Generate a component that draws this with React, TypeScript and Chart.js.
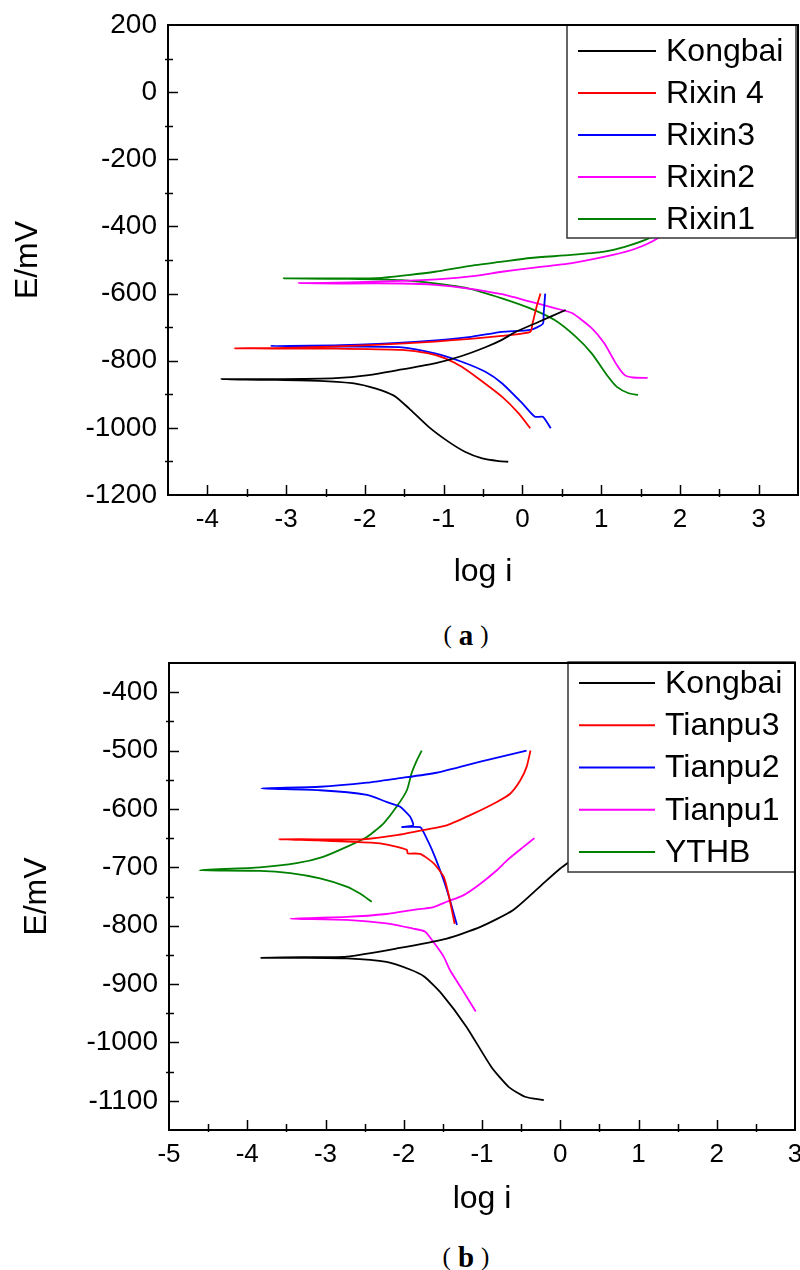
import React, { useEffect, useRef } from "react";
import { Chart, registerables } from "chart.js";

Chart.register(...registerables);

type Pt = [number, number];

const FONT = '"Liberation Sans", Arial, sans-serif';
const COLORS = ["#000000", "#ff0000", "#0000ff", "#ff00ff", "#008000"];

// ---------------- Figure (a) ----------------
const namesA = ["Kongbai", "Rixin 4", "Rixin3", "Rixin2", "Rixin1"];
const kongbaiA: Pt[] = [
  [-0.18, -1101], [-0.3, -1099], [-0.51, -1091], [-0.73, -1071], [-0.94, -1041],
  [-1.19, -997], [-1.44, -942], [-1.61, -907], [-1.78, -889], [-1.95, -877],
  [-2.16, -867], [-2.58, -860], [-3.2, -857], [-3.82, -855], [-3.2, -855],
  [-2.37, -852], [-1.95, -843], [-1.53, -826], [-1.11, -808], [-0.77, -786],
  [-0.47, -760], [-0.26, -738], [-0.1, -716], [0.21, -684], [0.55, -649],
];
const rixin4: Pt[] = [
  [0.1, -1001], [-0.05, -956], [-0.26, -907], [-0.56, -853], [-0.77, -818],
  [-0.98, -793], [-1.19, -778], [-1.53, -768], [-2.37, -764], [-3.0, -764],
  [-3.66, -763], [-3.0, -762], [-1.87, -753], [-1.11, -743], [-0.26, -726],
  [0.1, -714], [0.13, -688], [0.18, -640], [0.23, -600],
];
const rixin3: Pt[] = [
  [0.36, -1001], [0.26, -967], [0.16, -967], [0.0, -927], [-0.26, -867],
  [-0.47, -833], [-0.77, -803], [-1.11, -778], [-1.53, -760], [-2.3, -758],
  [-3.2, -756], [-2.3, -754], [-1.32, -743], [-0.68, -730], [-0.26, -714],
  [0.1, -708], [0.26, -690], [0.27, -660], [0.29, -600],
];
const rixin2: Pt[] = [
  [1.59, -851], [1.4, -850], [1.3, -843], [1.2, -813], [1.04, -748],
  [0.88, -703], [0.63, -658], [0.42, -644], [0.1, -624], [-0.26, -602],
  [-0.68, -585], [-1.11, -574], [-1.53, -570], [-2.2, -570], [-2.84, -569],
  [-2.2, -567], [-1.53, -562], [-1.0, -556], [-0.6, -547], [-0.26, -535],
  [0.1, -524], [0.63, -509], [1.15, -485], [1.45, -465], [1.72, -435],
  [1.9, -400],
];
const rixin1: Pt[] = [
  [1.47, -902], [1.35, -897], [1.2, -878], [1.09, -848], [0.88, -778],
  [0.68, -729], [0.41, -679], [0.1, -644], [-0.26, -614], [-0.68, -585],
  [-1.11, -570], [-1.53, -560], [-2.2, -556], [-3.03, -555], [-2.2, -555],
  [-1.78, -553], [-1.45, -545], [-1.11, -535], [-0.68, -518], [-0.26, -505],
  [0.1, -494], [0.62, -485], [1.04, -475], [1.3, -461], [1.61, -435],
  [1.85, -400],
];
const xTicksA = [-4, -3, -2, -1, 0, 1, 2, 3];
const yTicksA = [200, 0, -200, -400, -600, -800, -1000, -1200];

// ---------------- Figure (b) ----------------
const namesB = ["Kongbai", "Tianpu3", "Tianpu2", "Tianpu1", "YTHB"];
const kongbaiB: Pt[] = [
  [-0.21, -1099], [-0.45, -1093], [-0.66, -1076], [-0.88, -1042], [-1.2, -973],
  [-1.52, -916], [-1.74, -887], [-1.92, -875], [-2.22, -862], [-2.73, -856],
  [-3.3, -855], [-3.83, -855], [-3.3, -854], [-2.73, -853], [-2.09, -839],
  [-1.45, -822], [-1.02, -802], [-0.6, -773], [-0.26, -733], [0.0, -702],
  [0.35, -668],
];
const tianpu3: Pt[] = [
  [-1.35, -797], [-1.36, -790], [-1.43, -745], [-1.49, -716], [-1.62, -693],
  [-1.79, -677], [-1.95, -676], [-1.96, -670], [-2.3, -659], [-2.73, -656],
  [-3.1, -654], [-3.59, -652], [-3.1, -652], [-2.52, -652], [-2.09, -645],
  [-1.7, -635], [-1.45, -628], [-1.11, -608], [-0.81, -588], [-0.64, -574],
  [-0.51, -551], [-0.43, -528], [-0.38, -500],
];
const tianpu2: Pt[] = [
  [-1.32, -799], [-1.41, -756], [-1.49, -722], [-1.62, -676], [-1.75, -639],
  [-1.79, -631], [-2.02, -631], [-1.88, -628], [-1.92, -613], [-2.05, -596],
  [-2.22, -588], [-2.47, -576], [-3.07, -568], [-3.82, -565], [-3.07, -562],
  [-2.47, -555], [-2.09, -548], [-1.58, -538], [-1.02, -519], [-0.43, -500],
];
const tianpu1: Pt[] = [
  [-1.08, -947], [-1.25, -910], [-1.41, -876], [-1.49, -853], [-1.62, -828],
  [-1.73, -810], [-1.88, -805], [-2.22, -796], [-2.73, -790], [-3.45, -788],
  [-2.73, -785], [-2.22, -780], [-1.88, -773], [-1.62, -768], [-1.45, -759],
  [-1.24, -748], [-1.02, -728], [-0.81, -705], [-0.68, -688], [-0.47, -665],
  [-0.33, -650],
];
const ythb: Pt[] = [
  [-2.41, -759], [-2.56, -745], [-2.73, -733], [-3.07, -719], [-3.45, -710],
  [-3.84, -706], [-4.61, -705], [-3.84, -700], [-3.37, -693], [-3.03, -682],
  [-2.73, -665], [-2.47, -648], [-2.26, -625], [-2.09, -596], [-1.96, -568],
  [-1.9, -539], [-1.83, -516], [-1.77, -500],
];
const xTicksB = [-5, -4, -3, -2, -1, 0, 1, 2, 3];
const yTicksB = [-400, -500, -600, -700, -800, -900, -1000, -1100];

// ---------------- plugins ----------------
const frameTicks = {
  id: "frameTicks",
  afterDraw(chart: any, _a: any, o: any) {
    const { ctx, chartArea } = chart;
    const { left, right, top, bottom } = chartArea;
    const xs = chart.scales.x;
    const ys = chart.scales.y;
    ctx.save();
    ctx.strokeStyle = "#000";
    ctx.lineWidth = 1.5;
    const isMajor = (v: number, step: number) =>
      Math.abs(v / step - Math.round(v / step)) < 1e-6;
    for (let n = Math.ceil(xs.min / o.xMinor); n * o.xMinor <= xs.max + 1e-9; n++) {
      const v = n * o.xMinor;
      if (Math.abs(v - xs.min) < 1e-9 || Math.abs(v - xs.max) < 1e-9) continue;
      const p = Math.round(xs.getPixelForValue(v)) + 0.5;
      const maj = isMajor(v, o.xMajor);
      ctx.beginPath();
      ctx.moveTo(p, bottom + (maj ? 0 : 2));
      ctx.lineTo(p, bottom - (maj ? 10 : 6));
      ctx.stroke();
    }
    for (let n = Math.ceil(ys.min / o.yMinor); n * o.yMinor <= ys.max + 1e-9; n++) {
      const v = n * o.yMinor;
      if (Math.abs(v - ys.min) < 1e-9 || Math.abs(v - ys.max) < 1e-9) continue;
      const p = Math.round(ys.getPixelForValue(v)) + 0.5;
      const maj = isMajor(v, o.yMajor);
      ctx.beginPath();
      ctx.moveTo(left - (maj ? 0 : 3), p);
      ctx.lineTo(left + (maj ? 10 : 5), p);
      ctx.stroke();
    }
    ctx.lineWidth = 2;
    ctx.strokeRect(left, top, right - left, bottom - top);
    ctx.restore();
  },
};

const boxLegend = {
  id: "boxLegend",
  afterDatasetsDraw(chart: any, _a: any, o: any) {
    const ctx = chart.ctx;
    ctx.save();
    ctx.fillStyle = "#ffffff";
    ctx.fillRect(o.x, o.y, o.w, o.h);
    ctx.strokeStyle = "#333333";
    ctx.lineWidth = 1.5;
    ctx.strokeRect(o.x, o.y, o.w, o.h);
    ctx.font = `${o.fontSize}px ${FONT}`;
    ctx.textBaseline = "middle";
    ctx.textAlign = "left";
    chart.data.datasets.forEach((ds: any, i: number) => {
      const y = o.y + o.firstRow + i * o.rowGap;
      ctx.strokeStyle = ds.borderColor;
      ctx.lineWidth = 2;
      ctx.beginPath();
      ctx.moveTo(o.lineX1, y);
      ctx.lineTo(o.lineX2, y);
      ctx.stroke();
      ctx.fillStyle = "#000";
      ctx.fillText(ds.label, o.textX, y + 1);
    });
    ctx.restore();
  },
};

type PanelProps = {
  top: number;
  height: number;
  names: string[];
  series: Pt[][];
  xMin: number;
  xMax: number;
  yMin: number;
  yMax: number;
  xTicks: number[];
  yTicks: number[];
  xMinor: number;
  xMajor: number;
  yMinor: number;
  yMajor: number;
  padTop: number;
  padRight: number;
  yAxisW: number;
  xAxisH: number;
  xTitlePad: number;
  yTitlePad: number;
  legend: any;
};

function Panel(p: PanelProps) {
  const ref = useRef<HTMLCanvasElement>(null);
  useEffect(() => {
    const chart = new Chart(ref.current as HTMLCanvasElement, {
      type: "scatter",
      data: {
        datasets: p.series.map((s, i) => ({
          label: p.names[i],
          data: s.map(([x, y]) => ({ x, y })),
          showLine: true,
          borderColor: COLORS[i],
          backgroundColor: COLORS[i],
          borderWidth: 1.8,
          pointRadius: 0,
          tension: 0.2,
        })),
      },
      options: {
        responsive: false,
        maintainAspectRatio: false,
        animation: false,
        devicePixelRatio: 1,
        events: [],
        layout: { padding: { top: p.padTop, right: p.padRight, left: 0, bottom: 0 } },
        plugins: {
          legend: { display: false },
          tooltip: { enabled: false },
          frameTicks: { xMinor: p.xMinor, xMajor: p.xMajor, yMinor: p.yMinor, yMajor: p.yMajor },
          boxLegend: p.legend,
        } as any,
        scales: {
          x: {
            type: "linear",
            position: "bottom",
            min: p.xMin,
            max: p.xMax,
            grid: { display: false, drawTicks: false },
            border: { display: false },
            ticks: {
              color: "#000",
              font: { family: FONT, size: 26 },
              padding: 9,
              maxRotation: 0,
              autoSkip: false,
              callback: (v: any) => String(v),
            },
            afterBuildTicks: (s: any) => {
              s.ticks = p.xTicks.map((v) => ({ value: v }));
            },
            afterFit: (s: any) => {
              s.height = p.xAxisH;
              s.paddingLeft = 0;
              s.paddingRight = 0;
            },
            title: {
              display: true,
              text: "log i",
              color: "#000",
              font: { family: FONT, size: 32 },
              padding: { top: 0, bottom: p.xTitlePad },
            },
          },
          y: {
            type: "linear",
            min: p.yMin,
            max: p.yMax,
            grid: { display: false, drawTicks: false },
            border: { display: false },
            ticks: {
              color: "#000",
              font: { family: FONT, size: 28 },
              padding: 11,
              autoSkip: false,
              callback: (v: any) => String(v),
            },
            afterBuildTicks: (s: any) => {
              s.ticks = p.yTicks.map((v) => ({ value: v }));
            },
            afterFit: (s: any) => {
              s.width = p.yAxisW;
              s.paddingTop = 0;
              s.paddingBottom = 0;
            },
            title: {
              display: true,
              text: "E/mV",
              color: "#000",
              font: { family: FONT, size: 32 },
              padding: { top: p.yTitlePad, bottom: 0 },
            },
          },
        } as any,
      },
      plugins: [frameTicks, boxLegend],
    });
    return () => chart.destroy();
  }, []);
  return (
    <canvas
      ref={ref}
      width={800}
      height={p.height}
      style={{ position: "absolute", left: 0, top: p.top, width: 800, height: p.height }}
    />
  );
}

const captionStyle = (top: number): React.CSSProperties => ({
  position: "absolute",
  left: 366,
  top,
  width: 200,
  textAlign: "center",
  fontFamily: '"Liberation Serif", serif',
  fontWeight: "bold",
  fontSize: 29,
  lineHeight: "30px",
  color: "#000",
  whiteSpace: "nowrap",
});
const parenStyle: React.CSSProperties = {
  fontFamily: '"Liberation Serif", serif',
  fontWeight: "normal",
  fontSize: 25,
  position: "relative",
  top: -2,
};

function Caption({ top, letter }: { top: number; letter: string }) {
  return (
    <div style={captionStyle(top)}>
      <span style={parenStyle}>(</span>
      <span style={{ margin: "0 7px" }}>{letter}</span>
      <span style={parenStyle}>)</span>
    </div>
  );
}

export default function App() {
  return (
    <div style={{ position: "absolute", left: 0, top: 0, width: 800, height: 1270, background: "#fff" }}>
      <Panel
        top={0}
        height={610}
        names={namesA}
        series={[kongbaiA, rixin4, rixin3, rixin2, rixin1]}
        xMin={-4.5}
        xMax={3.5}
        yMin={-1200}
        yMax={200}
        xTicks={xTicksA}
        yTicks={yTicksA}
        xMinor={0.5}
        xMajor={1}
        yMinor={100}
        yMajor={200}
        padTop={25}
        padRight={2}
        yAxisW={168}
        xAxisH={115}
        xTitlePad={19}
        yTitlePad={9}
        legend={{ x: 567, y: 25, w: 229, h: 213, firstRow: 26, rowGap: 42, lineX1: 578, lineX2: 656, textX: 666, fontSize: 32 }}
      />
      <Caption top={620} letter="a" />
      <Panel
        top={640}
        height={600}
        names={namesB}
        series={[kongbaiB, tianpu3, tianpu2, tianpu1, ythb]}
        xMin={-5}
        xMax={3}
        yMin={-1150}
        yMax={-350}
        xTicks={xTicksB}
        yTicks={yTicksB}
        xMinor={0.5}
        xMajor={1}
        yMinor={50}
        yMajor={100}
        padTop={23}
        padRight={5}
        yAxisW={169}
        xAxisH={110}
        xTitlePad={22}
        yTitlePad={18}
        legend={{ x: 568, y: 22, w: 227, h: 210, firstRow: 21, rowGap: 42.25, lineX1: 579, lineX2: 655, textX: 665, fontSize: 32 }}
      />
      <Caption top={1242} letter="b" />
    </div>
  );
}
